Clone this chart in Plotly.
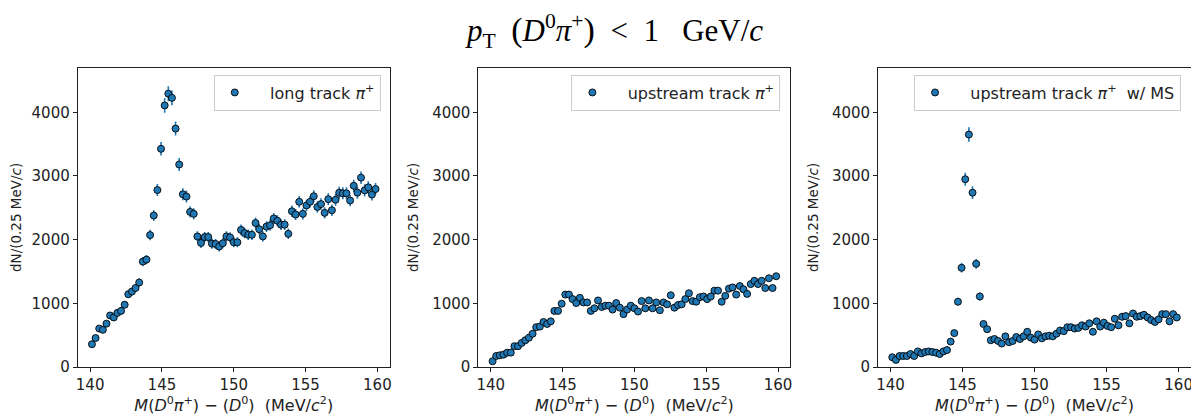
import numpy as np
import plotly.graph_objects as go

# ---- data ----
bin_edges = np.linspace(140, 160, 80)
mass = 0.5 * (bin_edges[:-1] + bin_edges[1:])   # bin centres (MeV/c^2)

long_track = [359, 456, 605, 585, 682, 810, 779, 851, 882, 979,
              1144, 1185, 1241, 1328, 1656, 1687, 2072, 2379, 2779, 3426,
              4108, 4292, 4226, 3744, 3180, 2713, 2677, 2436, 2405, 2051,
              1949, 2041, 2041, 1938, 1933, 1892, 1944, 2051, 2036, 1959,
              1959, 2154, 2103, 2077, 2077, 2262, 2164, 2051, 2205, 2226,
              2333, 2297, 2236, 2236, 2092, 2446, 2395, 2595, 2405, 2538,
              2595, 2682, 2513, 2559, 2421, 2636, 2462, 2626, 2738, 2728,
              2728, 2615, 2846, 2738, 2974, 2774, 2821, 2708, 2795]

upstream = [92, 174, 185, 195, 226, 226, 328, 328, 379, 421,
            462, 523, 626, 636, 708, 677, 718, 882, 882, 995,
            1138, 1138, 1067, 1005, 1087, 1015, 1015, 882, 923, 1046,
            944, 964, 964, 903, 1005, 933, 831, 903, 964, 923,
            872, 1036, 923, 1046, 923, 1015, 892, 1015, 985, 1128,
            933, 974, 985, 1067, 1159, 1036, 1026, 1097, 1108, 1067,
            1108, 1200, 1200, 1026, 1118, 1231, 1251, 1138, 1272, 1221,
            1149, 1303, 1354, 1303, 1354, 1241, 1395, 1241, 1426]

upstream_ms = [154, 113, 174, 174, 174, 205, 174, 246, 215, 236,
               246, 236, 226, 205, 246, 267, 400, 533, 1026, 1559,
               2949, 3651, 2738, 1621, 1108, 677, 595, 421, 441, 410,
               369, 482, 390, 410, 472, 441, 482, 554, 462, 431,
               513, 451, 482, 492, 482, 523, 574, 564, 626, 626,
               605, 615, 656, 636, 687, 554, 718, 636, 697, 646,
               626, 759, 656, 790, 800, 687, 841, 790, 800, 821,
               779, 738, 708, 749, 831, 831, 718, 831, 779]

labels = ["long track <i>π</i><sup>+</sup>",
          "upstream track <i>π</i><sup>+</sup>",
          "upstream track <i>π</i><sup>+</sup>  w/ MS"]
err_scale = [1.8, 1.3, 1.9]   # statistical-error weight factor per sample

x_ticks = [140, 145, 150, 155, 160]
y_ticks = [0, 1000, 2000, 3000, 4000]

# ---- layout geometry (page pixels; page body has an 8px left margin) ----
OFFX = 8
W, H = 1199 - OFFX, 417
panels_px = [(76, 389), (478, 791), (879, 1193)]
y_top_px, y_bot_px = 61, 367
legend_right_px = [380, 781, 1183]
legend_top_px = 68


def fx(px):
    return (px - OFFX) / W


def fy(py):
    return (H - py) / H


BLUE = "#1f77b4"
FONT = "DejaVu Sans"
PAD = "&nbsp;&nbsp;&nbsp;"

fig = go.Figure()
series = [long_track, upstream, upstream_ms]
for k, vals in enumerate(series):
    vals = np.array(vals, dtype=float)
    err = np.sqrt(vals) * err_scale[k]
    sfx = "" if k == 0 else str(k + 1)
    fig.add_trace(go.Scatter(
        x=mass, y=vals, mode="markers", name=PAD + labels[k],
        xaxis="x" + sfx, yaxis="y" + sfx,
        legend="legend" + sfx,
        marker=dict(color=BLUE, size=7, line=dict(color="black", width=0.9)),
        error_y=dict(type="data", array=err, color=BLUE, thickness=1.6, width=0),
        showlegend=True,
    ))

layout = dict(
    width=W, height=H,
    margin=dict(l=0, r=0, t=0, b=0),
    paper_bgcolor="white", plot_bgcolor="white",
    font=dict(family=FONT, size=15, color="#222"),
)
ydom = [fy(y_bot_px), fy(y_top_px)]
xlabel = ("<i>M</i>(<i>D</i><sup>0</sup><i>π</i><sup>+</sup>) − (<i>D</i><sup>0</sup>)"
          "  (MeV/<i>c</i><sup>2</sup>)")
for k in range(3):
    sfx = "" if k == 0 else str(k + 1)
    l, r = panels_px[k]
    layout["xaxis" + sfx] = dict(
        domain=[fx(l), fx(r)], anchor="y" + sfx, range=[139.14, 160.86],
        tickvals=x_ticks, ticks="outside", ticklen=4, tickwidth=1, tickcolor="#222",
        showline=True, linecolor="#222", linewidth=1, mirror=True,
        showgrid=False, zeroline=False,
        tickfont=dict(size=15),
        title=dict(text=xlabel, font=dict(size=16), standoff=4),
    )
    layout["yaxis" + sfx] = dict(
        domain=ydom, anchor="x" + sfx, range=[0, 4700],
        tickvals=y_ticks, ticks="outside", ticklen=4, tickwidth=1, tickcolor="#222",
        showline=True, linecolor="#222", linewidth=1, mirror=True,
        showgrid=False, zeroline=False,
        tickfont=dict(size=15),
        title=dict(text="dN/(0.25 MeV/<i>c</i>)", font=dict(size=13.5), standoff=10),
    )
    layout["legend" + sfx] = dict(
        x=fx(legend_right_px[k]), xanchor="right",
        y=fy(legend_top_px), yanchor="top",
        bgcolor="rgba(255,255,255,0.8)", bordercolor="#cccccc", borderwidth=1,
        font=dict(size=16, color="#222"),
    )

fig.update_layout(**layout)

fig.add_annotation(
    text=('<i>p</i><sub>T</sub>  <span style="font-size:34px">(</span><i>D</i><sup>0</sup>'
          '<i>π</i><sup>+</sup><span style="font-size:34px">)</span>  &lt;  1   GeV/<i>c</i>'),
    xref="paper", yref="paper", x=fx(614), y=fy(24),
    xanchor="center", yanchor="middle", showarrow=False,
    font=dict(family="Liberation Serif", size=31, color="black"),
)

fig.write_html("out.html")
